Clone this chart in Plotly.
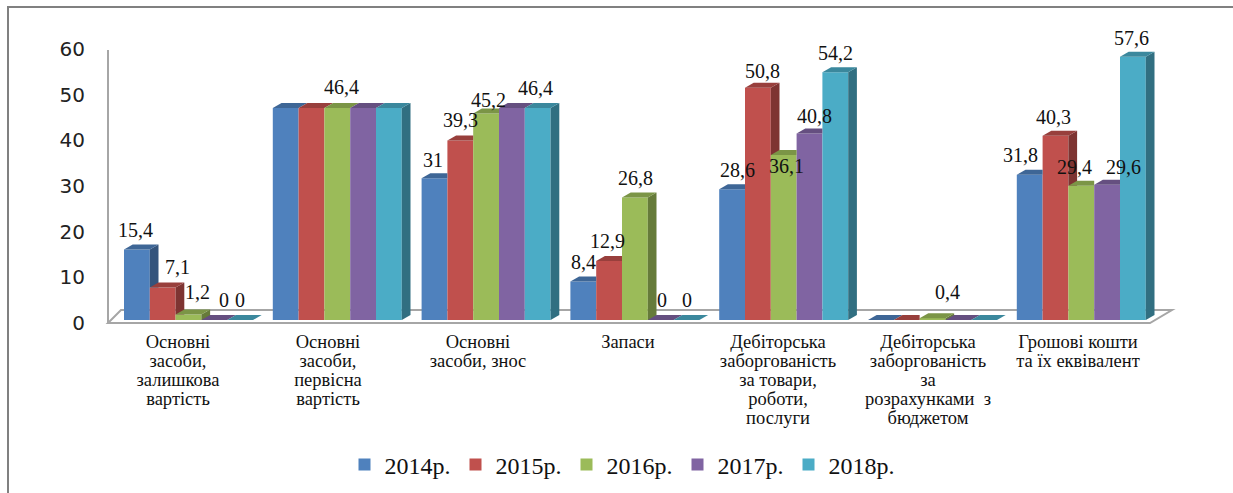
import plotly.graph_objects as go

category_lines = [
    ["Основні", "засоби,", "залишкова", "вартість"],
    ["Основні", "засоби,", "первісна", "вартість"],
    ["Основні", "засоби, знос"],
    ["Запаси"],
    ["Дебіторська", "заборгованість", "за товари,", "роботи,", "послуги"],
    ["Дебіторська", "заборгованість", "за", "розрахунками  з", "бюджетом"],
    ["Грошові кошти", "та їх еквівалент"],
]
years = ["2014р.", "2015р.", "2016р.", "2017р.", "2018р."]
v2014 = [15.4, 46.4, 31, 8.4, 28.6, 0, 31.8]
v2015 = [7.1, 46.4, 39.3, 12.9, 50.8, 0, 40.3]
v2016 = [1.2, 46.4, 45.2, 26.8, 36.1, 0.4, 29.4]
v2017 = [0, 46.4, 46.4, 0, 40.8, 0, 29.6]
v2018 = [0, 46.4, 46.4, 0, 54.2, 0, 57.6]
series = [v2014, v2015, v2016, v2017, v2018]
y_ticks = [0, 10, 20, 30, 40, 50, 60]

# (group, series): label pixel offset from the bar's top centre
label_offsets = {
    (0, 0): (-1, 20), (0, 1): (15, 21), (0, 2): (9, 23), (0, 3): (10, 20), (0, 4): (0, 20),
    (1, 2): (4, 21),
    (2, 0): (-2, 18), (2, 1): (0, 20), (2, 2): (2, 13), (2, 4): (-2, 20),
    (3, 0): (0, 20), (3, 1): (-2, 20), (3, 2): (1, 20), (3, 3): (1, 20), (3, 4): (0, 20),
    (4, 0): (5, 19), (4, 1): (5, 17), (4, 2): (3, -11), (4, 3): (5, 18), (4, 4): (0, 19),
    (5, 2): (15, 26),
    (6, 0): (-9, 20), (6, 1): (-2, 19), (6, 2): (-7, 19), (6, 3): (16, 18), (6, 4): (-1, 19),
}

front = ["#4F81BD", "#C0504D", "#9BBB59", "#8064A2", "#4BACC6"]
top = ["#3E6696", "#983F3C", "#7B9546", "#654F80", "#3B889D"]
side = ["#34547C", "#7E3432", "#667B3A", "#54426A", "#316F81"]

W, H = 1233, 493
PL, PR, PT, PB = 100, 1180, 40, 330      # plot box, pixels
PITCH, BASE_Y, UNIT = 148.8, 320.0, 4.57  # px per group, px of zero, px per unit
X0 = 188.5                                # px centre of the first group
xr = [(PL - X0) / PITCH, (PR - X0) / PITCH]
yr = [(BASE_Y - PB) / UNIT, (BASE_Y - PT) / UNIT]
BARGAP = 1 - 129 / PITCH
BW = (1 - BARGAP) / 5
DX, DY = 8.7 / PITCH, 5.0 / UNIT


def dx(px):
    return (px - X0) / PITCH


def dy(py):
    return (BASE_Y - py) / UNIT


fig = go.Figure()
for s, vals in enumerate(series):
    fig.add_trace(go.Bar(name=years[s], x=list(range(7)), y=vals, marker_color=front[s],
                         marker_line_width=0, hoverinfo="skip"))

# the 3D sides and tops, taken from the same values
for s, vals in enumerate(series):
    for g, v in enumerate(vals):
        x0 = g - (1 - BARGAP) / 2 + s * BW
        x1 = x0 + BW
        nxt = series[s + 1][g] if s < 4 else 0
        if v > nxt:
            fig.add_trace(go.Scatter(x=[x1, x1 + DX, x1 + DX, x1, x1], y=[nxt, nxt + DY if s == 4 else nxt, v + DY, v, nxt],
                                     mode="lines", fill="toself", fillcolor=side[s], line_width=0,
                                     showlegend=False, hoverinfo="skip"))
        clip = x1 + DX if nxt <= v else x1
        fig.add_trace(go.Scatter(x=[x0, x0 + DX, clip, x1, x0], y=[v, v + DY, v + DY, v, v],
                                 mode="lines", fill="toself", fillcolor=top[s], line_width=0,
                                 showlegend=False, hoverinfo="skip"))

annotations = []
for (g, s), (ox, oy) in label_offsets.items():
    v = series[s][g]
    annotations.append(dict(x=g - (1 - BARGAP) / 2 + (s + 0.5) * BW, y=v,
                            text=f"{v:g}".replace(".", ","), showarrow=False,
                            xshift=ox, yshift=oy,
                            font=dict(family="Liberation Serif", size=20, color="#111111")))

GRID = "#A6A6A6"
shapes = [
    dict(type="path", layer="below", xref="x", yref="y",
         path=f"M{dx(108)},{dy(323)} L{dx(1150)},{dy(323)} L{dx(1172)},{dy(310)} L{dx(121)},{dy(310)} Z",
         fillcolor="white", line=dict(color=GRID, width=2)),
    dict(type="line", layer="below", xref="x", yref="y", x0=dx(108), x1=dx(108), y0=dy(323), y1=dy(50),
         line=dict(color=GRID, width=2)),
    dict(type="line", xref="paper", yref="paper", x0=(8 - PL) / (PR - PL), x1=(8 - PL) / (PR - PL),
         y0=(PB - H) / (PB - PT), y1=(PB - 6) / (PB - PT), line=dict(color="#808080", width=2)),
    dict(type="line", xref="paper", yref="paper", x0=(7 - PL) / (PR - PL), x1=(W - PL) / (PR - PL),
         y0=(PB - 7) / (PB - PT), y1=(PB - 7) / (PB - PT), line=dict(color="#808080", width=2)),
]

tick_x = [dx(178 + 150 * i) for i in range(7)]
tick_text = ["<br>".join(f"<span style='font-size:18.5px'>{ln}</span>" for ln in lines)
             for lines in category_lines]

fig.update_layout(
    width=W, height=H, margin=dict(l=PL, r=W - PR, t=PT, b=H - PB, autoexpand=False),
    paper_bgcolor="white", plot_bgcolor="rgba(0,0,0,0)",
    barmode="group", bargap=BARGAP, bargroupgap=0,
    annotations=annotations, shapes=shapes,
    xaxis=dict(range=xr, tickmode="array", tickvals=tick_x, ticktext=tick_text, tickangle=0, automargin=False,
               showgrid=False, zeroline=False, showline=False, ticks="", ticklabelstandoff=2,
               tickfont=dict(family="Liberation Serif", size=14.7, color="#111111")),
    yaxis=dict(range=yr, tickmode="array", tickvals=y_ticks, showgrid=False, zeroline=False, automargin=False,
               showline=False, ticks="", ticklabelshift=3, ticklabelstandoff=14,
               tickfont=dict(family="DejaVu Sans", size=20, color="#222222")),
    legend=dict(orientation="h", x=(622 - PL) / (PR - PL), xanchor="center", y=(PB - 465) / (PB - PT),
                yanchor="middle", font=dict(family="Liberation Serif", size=24, color="#111111"),
                entrywidth=66, entrywidthmode="pixels", itemclick=False, itemdoubleclick=False,
                bgcolor="rgba(0,0,0,0)"),
    showlegend=True,
)
fig.write_html("out.html", config={"displayModeBar": False},
               post_script="document.body.style.margin='0';document.documentElement.style.overflow='hidden';"
                           "document.body.style.overflow='hidden';var g=document.getElementsByClassName('plotly-graph-div')[0];"
                           "g.style.display='block';window.scrollTo(0,0);")
